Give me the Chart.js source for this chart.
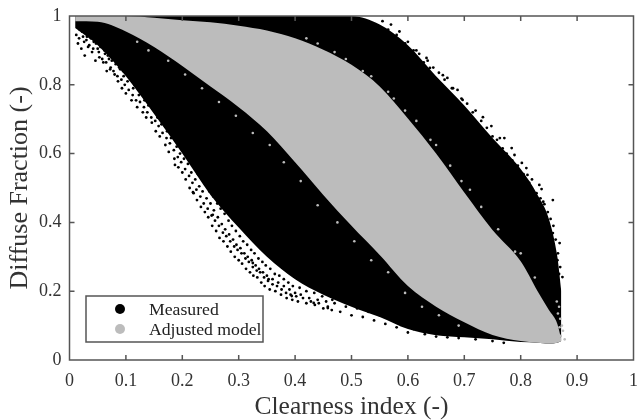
<!DOCTYPE html>
<html>
<head>
<meta charset="utf-8">
<title>Diffuse fraction</title>
<script src="https://cdn.jsdelivr.net/npm/chart.js@4/dist/chart.umd.js"></script>
<style>
    html, body { margin: 0; padding: 0; background: #fff; }
    canvas { display: block; }
</style>
</head>
<body>
<canvas id="scatterChart" width="640" height="420"></canvas>
<script>
const seriesNames = ["Measured", "Adjusted model"];
const xTicks = [0, 0.1, 0.2, 0.3, 0.4, 0.5, 0.6, 0.7, 0.8, 0.9, 1];
const yTicks = [0, 0.2, 0.4, 0.6, 0.8, 1];

// envelopes of the two dense clouds
const clearness = [0.01, 0.05, 0.1, 0.15, 0.2, 0.25, 0.3, 0.35, 0.4, 0.45, 0.5, 0.55, 0.6, 0.65, 0.7, 0.75, 0.8, 0.83, 0.85, 0.865, 0.872];
const adjustedUpper = [1, 1, 1, 0.995, 0.988, 0.982, 0.972, 0.958, 0.935, 0.902, 0.858, 0.795, 0.702, 0.6, 0.487, 0.378, 0.287, 0.2, 0.145, 0.105, 0.06];
const adjustedLower = [0.985, 0.983, 0.955, 0.91, 0.855, 0.795, 0.735, 0.665, 0.575, 0.48, 0.39, 0.305, 0.215, 0.155, 0.11, 0.073, 0.055, 0.05, 0.047, 0.05, 0.055];
const measuredUpper = [1, 1, 1, 1, 1, 1, 1, 1, 1, 1, 1, 0.975, 0.915, 0.825, 0.74, 0.645, 0.555, 0.48, 0.41, 0.3, 0.2];
const measuredLower = [0.965, 0.915, 0.825, 0.715, 0.6, 0.48, 0.385, 0.3, 0.235, 0.19, 0.155, 0.125, 0.09, 0.072, 0.066, 0.06, 0.052, 0.05, 0.047, 0.05, 0.055];

// loose points along the edges of the measured cloud
const measuredLooseX = [0.012, 0.015, 0.018, 0.021, 0.024, 0.027, 0.03, 0.033, 0.036, 0.04, 0.043, 0.046, 0.05, 0.053, 0.056, 0.06, 0.063, 0.066, 0.07, 0.073, 0.076, 0.08, 0.083, 0.086, 0.09, 0.093, 0.096, 0.1, 0.103, 0.106, 0.11, 0.113, 0.116, 0.12, 0.123, 0.126, 0.13, 0.133, 0.136, 0.14, 0.143, 0.146, 0.15, 0.153, 0.156, 0.16, 0.163, 0.166, 0.17, 0.173, 0.176, 0.18, 0.183, 0.186, 0.19, 0.193, 0.196, 0.2, 0.203, 0.206, 0.21, 0.213, 0.216, 0.22, 0.223, 0.226, 0.23, 0.233, 0.236, 0.24, 0.243, 0.246, 0.25, 0.253, 0.256, 0.26, 0.263, 0.266, 0.27, 0.273, 0.276, 0.28, 0.283, 0.286, 0.29, 0.293, 0.296, 0.3, 0.303, 0.306, 0.31, 0.313, 0.316, 0.32, 0.323, 0.326, 0.33, 0.333, 0.336, 0.34, 0.343, 0.346, 0.35, 0.355, 0.36, 0.365, 0.37, 0.375, 0.38, 0.385, 0.39, 0.395, 0.4, 0.405, 0.41, 0.42, 0.425, 0.435, 0.44, 0.45, 0.455, 0.465, 0.47, 0.48, 0.49, 0.5, 0.51, 0.52, 0.53, 0.54, 0.55, 0.56, 0.57, 0.58, 0.59, 0.6, 0.61, 0.63, 0.65, 0.67, 0.69, 0.72, 0.75, 0.77,
    0.615, 0.633, 0.639, 0.662, 0.678, 0.697, 0.733, 0.748, 0.763, 0.771, 0.784, 0.789, 0.802, 0.81, 0.812, 0.833, 0.837, 0.857, 0.842, 0.857, 0.869, 0.865, 0.874, 0.865, 0.86,
    0.017, 0.022, 0.026, 0.031, 0.035, 0.038, 0.042, 0.047, 0.052, 0.055,
    0.058, 0.062, 0.065, 0.068, 0.072, 0.075, 0.078, 0.082, 0.085, 0.088,
    0.092, 0.095, 0.098, 0.102, 0.105, 0.108, 0.112, 0.115, 0.118, 0.122,
    0.125, 0.128, 0.132, 0.135, 0.138, 0.142, 0.145, 0.148, 0.152, 0.155,
    0.158, 0.162, 0.165, 0.168, 0.172, 0.175, 0.178, 0.182, 0.185, 0.188,
    0.192, 0.195, 0.198, 0.202, 0.205, 0.208, 0.212, 0.215, 0.218, 0.222,
    0.225, 0.228, 0.232, 0.235, 0.238, 0.242, 0.245, 0.248, 0.252, 0.255,
    0.258, 0.262, 0.265, 0.268, 0.272, 0.275, 0.278, 0.282, 0.285, 0.288,
    0.292, 0.295, 0.298, 0.302, 0.305, 0.308, 0.312, 0.315, 0.318, 0.322,
    0.325, 0.328, 0.332, 0.335, 0.338, 0.342, 0.345, 0.348, 0.352, 0.356,
    0.36, 0.364, 0.368, 0.372, 0.376, 0.38, 0.384, 0.388, 0.392, 0.396,
    0.402, 0.408, 0.414, 0.42, 0.428, 0.434, 0.442, 0.448, 0.458, 0.466,
    0.555, 0.565, 0.57, 0.58, 0.585, 0.595, 0.6, 0.61, 0.62, 0.628,
    0.635, 0.645, 0.655, 0.665, 0.67, 0.68, 0.688, 0.695, 0.705, 0.715,
    0.72, 0.73, 0.74, 0.75, 0.758, 0.768, 0.775, 0.785, 0.795, 0.805,
    0.815, 0.82, 0.828, 0.835, 0.84, 0.848, 0.853, 0.858, 0.862, 0.866,
    0.87, 0.868, 0.864,
    0.187, 0.254, 0.219, 0.394, 0.353, 0.433, 0.458, 0.325];
const measuredLooseY = [0.945, 0.92, 0.96, 0.905, 0.94, 0.885, 0.93, 0.91, 0.95, 0.895, 0.925, 0.87, 0.905, 0.88, 0.93, 0.865, 0.89, 0.84, 0.875, 0.85, 0.905, 0.83, 0.865, 0.81, 0.845, 0.79, 0.825, 0.775, 0.81, 0.85, 0.755, 0.79, 0.825, 0.735, 0.77, 0.8, 0.72, 0.755, 0.705, 0.74, 0.785, 0.69, 0.725, 0.665, 0.705, 0.65, 0.685, 0.73, 0.625, 0.665, 0.605, 0.645, 0.695, 0.585, 0.62, 0.56, 0.6, 0.545, 0.585, 0.525, 0.57, 0.5, 0.545, 0.485, 0.525, 0.465, 0.505, 0.445, 0.49, 0.43, 0.47, 0.415, 0.455, 0.39, 0.435, 0.375, 0.415, 0.355, 0.395, 0.345, 0.38, 0.33, 0.365, 0.315, 0.35, 0.3, 0.335, 0.29, 0.325, 0.28, 0.31, 0.265, 0.3, 0.255, 0.29, 0.245, 0.275, 0.24, 0.265, 0.225, 0.255, 0.215, 0.245, 0.205, 0.235, 0.2, 0.225, 0.19, 0.215, 0.18, 0.205, 0.175, 0.195, 0.17, 0.19, 0.165, 0.18, 0.16, 0.175, 0.15, 0.17, 0.145, 0.165, 0.14, 0.155, 0.13, 0.15, 0.125, 0.14, 0.115, 0.13, 0.105, 0.12, 0.095, 0.105, 0.08, 0.09, 0.075, 0.068, 0.066, 0.064, 0.06, 0.055, 0.05,
    0.9, 0.878, 0.849, 0.828, 0.79, 0.756, 0.706, 0.68, 0.645, 0.645, 0.616, 0.596, 0.573, 0.558, 0.538, 0.509, 0.497, 0.465, 0.453, 0.369, 0.34, 0.29, 0.241, 0.203, 0.166,
    0.935, 0.955, 0.925, 0.94, 0.915, 0.935, 0.905, 0.92, 0.895, 0.91,
    0.875, 0.9, 0.865, 0.885, 0.845, 0.87, 0.84, 0.86, 0.825, 0.85,
    0.815, 0.84, 0.8, 0.83, 0.785, 0.815, 0.77, 0.8, 0.755, 0.79,
    0.75, 0.775, 0.735, 0.765, 0.72, 0.76, 0.705, 0.745, 0.695, 0.735,
    0.68, 0.72, 0.66, 0.705, 0.645, 0.69, 0.63, 0.675, 0.61, 0.655,
    0.59, 0.64, 0.575, 0.625, 0.555, 0.6, 0.535, 0.585, 0.515, 0.56,
    0.495, 0.54, 0.475, 0.525, 0.455, 0.51, 0.44, 0.49, 0.42, 0.475,
    0.405, 0.455, 0.39, 0.44, 0.37, 0.425, 0.36, 0.405, 0.345, 0.39,
    0.33, 0.375, 0.32, 0.36, 0.31, 0.345, 0.295, 0.335, 0.285, 0.32,
    0.27, 0.31, 0.26, 0.295, 0.255, 0.285, 0.24, 0.275, 0.23, 0.265,
    0.22, 0.25, 0.215, 0.245, 0.205, 0.235, 0.195, 0.225, 0.19, 0.215,
    0.185, 0.21, 0.18, 0.2, 0.17, 0.195, 0.165, 0.185, 0.155, 0.175,
    0.985, 0.96, 0.975, 0.945, 0.955, 0.92, 0.925, 0.9, 0.89, 0.865,
    0.87, 0.85, 0.835, 0.815, 0.82, 0.79, 0.785, 0.76, 0.745, 0.72,
    0.725, 0.695, 0.675, 0.65, 0.64, 0.615, 0.6, 0.58, 0.565, 0.54,
    0.515, 0.525, 0.485, 0.47, 0.46, 0.43, 0.41, 0.39, 0.35, 0.31,
    0.27, 0.25, 0.22,
    0.567, 0.422, 0.488, 0.186, 0.235, 0.166, 0.151, 0.282];

// loose grey points where the model cloud runs into the black, and its tip on the right
const adjustedLooseX = [0.12, 0.14, 0.175, 0.205, 0.235, 0.265, 0.295, 0.325, 0.355, 0.38, 0.41, 0.44, 0.475, 0.505, 0.535, 0.565, 0.595, 0.625, 0.655, 0.69,
    0.42, 0.44, 0.47, 0.49, 0.52, 0.535, 0.565, 0.575, 0.595, 0.615, 0.64, 0.65, 0.675, 0.695, 0.71, 0.73, 0.76, 0.79, 0.8, 0.825,
    0.866, 0.87, 0.873, 0.868, 0.875, 0.871, 0.878, 0.869, 0.864];
const adjustedLooseY = [0.925, 0.9, 0.87, 0.83, 0.79, 0.75, 0.71, 0.66, 0.625, 0.575, 0.52, 0.45, 0.4, 0.345, 0.29, 0.255, 0.195, 0.155, 0.13, 0.1,
    0.935, 0.92, 0.895, 0.875, 0.84, 0.825, 0.78, 0.76, 0.725, 0.695, 0.64, 0.625, 0.565, 0.52, 0.495, 0.445, 0.38, 0.315, 0.31, 0.24,
    0.135, 0.12, 0.1, 0.155, 0.085, 0.07, 0.06, 0.095, 0.17];

const axisColor = "#555";
const measuredColor = "#000";
const adjustedColor = "#bcbcbc";
const serifFont = "'Liberation Serif', 'Times New Roman', serif";

function pairs(xs, ys) {
    return xs.map((x, i) => ({ x: x, y: ys[i] }));
}

function bandEdge(values, color, fillTarget) {
    return {
        data: pairs(clearness, values),
        showLine: true,
        cubicInterpolationMode: "monotone",
        borderWidth: 0,
        pointRadius: 0,
        backgroundColor: color,
        fill: fillTarget
    };
}

// frame, inward ticks and the legend box sit inside the plot, which Chart.js has no option for
const framePlugin = {
    id: "frame",
    afterDatasetsDraw(chart) {
        const { ctx, chartArea: a, scales } = chart;
        ctx.save();
        ctx.strokeStyle = axisColor;
        ctx.lineWidth = 1.5;
        ctx.strokeRect(a.left, a.top, a.right - a.left, a.bottom - a.top);
        ctx.beginPath();
        xTicks.slice(1, -1).forEach(v => {
            const px = scales.x.getPixelForValue(v);
            ctx.moveTo(px, a.bottom); ctx.lineTo(px, a.bottom - 5);
            ctx.moveTo(px, a.top); ctx.lineTo(px, a.top + 5);
        });
        yTicks.slice(1, -1).forEach(v => {
            const py = scales.y.getPixelForValue(v);
            ctx.moveTo(a.left, py); ctx.lineTo(a.left + 5, py);
            ctx.moveTo(a.right, py); ctx.lineTo(a.right - 5, py);
        });
        ctx.stroke();

        ctx.fillStyle = "#fff";
        ctx.fillRect(86, 296, 177, 46);
        ctx.strokeRect(86, 296, 177, 46);
        ctx.font = "17.7px " + serifFont;
        ctx.textBaseline = "middle";
        [measuredColor, adjustedColor].forEach((color, i) => {
            const y = 309 + i * 20;
            ctx.fillStyle = color;
            ctx.beginPath();
            ctx.arc(120, y, 5, 0, Math.PI * 2);
            ctx.fill();
            ctx.fillStyle = "#222";
            ctx.fillText(seriesNames[i], 149, y + 1);
        });
        ctx.restore();
    }
};

new Chart(document.getElementById("scatterChart").getContext("2d"), {
    type: "scatter",
    data: {
        datasets: [
            bandEdge(adjustedUpper, adjustedColor, "+1"),
            bandEdge(adjustedLower, adjustedColor, false),
            { data: pairs(adjustedLooseX, adjustedLooseY), pointRadius: 1.3, borderWidth: 0, backgroundColor: adjustedColor },
            bandEdge(measuredUpper, measuredColor, "+1"),
            bandEdge(measuredLower, measuredColor, false),
            { data: pairs(measuredLooseX, measuredLooseY), pointRadius: 1.4, borderWidth: 0, backgroundColor: measuredColor }
        ]
    },
    options: {
        responsive: false,
        animation: false,
        layout: { padding: { top: 16, right: 6, left: 0, bottom: 0 } },
        plugins: { legend: { display: false }, tooltip: { enabled: false } },
        scales: {
            x: {
                type: "linear",
                min: 0,
                max: 1,
                afterBuildTicks: scale => { scale.ticks = xTicks.map(v => ({ value: v })); },
                afterFit: scale => { scale.height = 60; },
                grid: { display: false },
                border: { display: false },
                ticks: { color: "#333", padding: 2, maxRotation: 0, callback: v => String(v), font: { family: serifFont, size: 18 } },
                title: { display: true, text: "Clearness index (-)", color: "#333", padding: { top: 2, bottom: 0 }, font: { family: serifFont, size: 25.5, lineHeight: 1 } }
            },
            y: {
                min: 0,
                max: 1,
                afterBuildTicks: scale => { scale.ticks = yTicks.map(v => ({ value: v })); },
                afterFit: scale => { scale.width = 69.5; },
                grid: { display: false },
                border: { display: false },
                ticks: { color: "#333", padding: 0, callback: v => String(v), font: { family: serifFont, size: 18 } },
                title: { display: true, text: "Diffuse Fraction (-)", color: "#333", padding: { top: 7, bottom: 0 }, font: { family: serifFont, size: 26, lineHeight: 1 } }
            }
        }
    },
    plugins: [framePlugin]
});
</script>
</body>
</html>
